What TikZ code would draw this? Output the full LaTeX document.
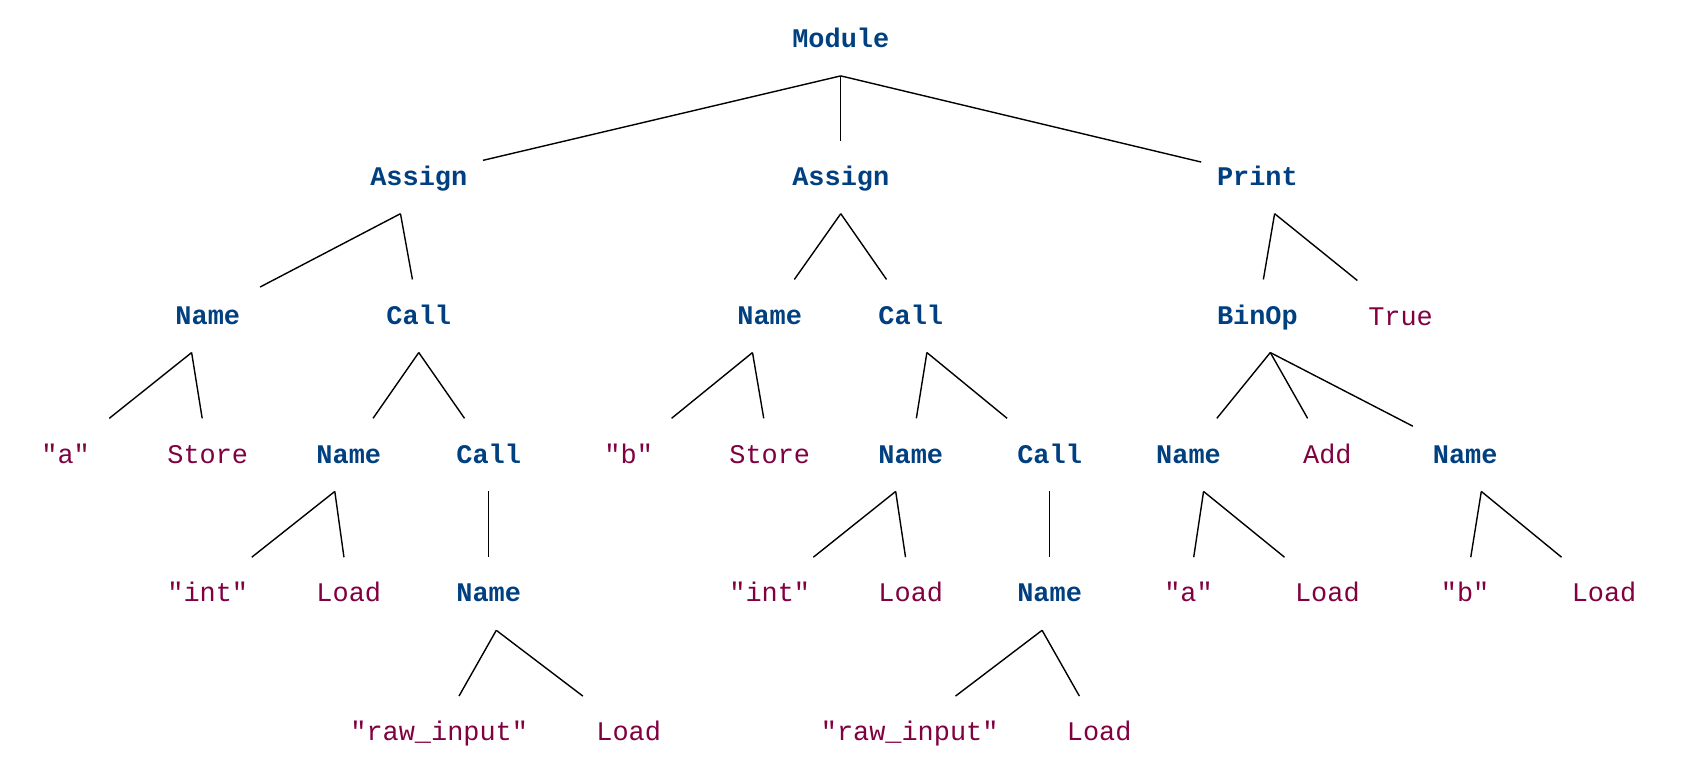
\documentclass[tikz,border=0pt]{standalone}
\usepackage{fontspec}
\setmonofont{Liberation Mono}
\usetikzlibrary{calc}
\definecolor{nodeblue}{RGB}{0,64,128}
\definecolor{leafred}{RGB}{128,0,64}
\begin{document}
\begin{tikzpicture}[x=0.5pt,y=-0.5pt,
  base/.style={rectangle, inner xsep=7.14pt, inner ysep=0pt, minimum width=48.2pt,
    minimum height=32pt, text height=9.1pt, text depth=0pt},
  inode/.style={base, text=nodeblue, font=\ttfamily\bfseries\fontsize{12.5}{14}\selectfont},
  leaf/.style={base, text=leafred, font=\ttfamily\fontsize{12.5}{14}\selectfont},
  link/.style={line width=0.65pt, draw=black}]
\useasboundingbox (0,0) rectangle (1568,721);
% level 1
\node[inode] (m) at (781,35) {Module};
% level 2
\node[inode] (a1) at (389,163) {Assign};
\node[inode] (a2) at (781,163) {Assign};
\node[inode] (p) at (1168,163) {Print};
% level 3
\node[inode] (n1) at (193,292) {Name};
\node[inode] (c1) at (389,292) {Call};
\node[inode] (n2) at (715,292) {Name};
\node[inode] (c2) at (846,292) {Call};
\node[inode] (bo) at (1168,292) {BinOp};
\node[leaf] (tr) at (1301,293) {True};
% level 4
\node[leaf] (la) at (61,421) {"a"};
\node[leaf] (st1) at (193,421) {Store};
\node[inode] (n3) at (324,421) {Name};
\node[inode] (c3) at (454,421) {Call};
\node[leaf] (lb) at (584,421) {"b"};
\node[leaf] (st2) at (715,421) {Store};
\node[inode] (n4) at (846,421) {Name};
\node[inode] (c4) at (975,421) {Call};
\node[inode] (n5) at (1104,421) {Name};
\node[leaf] (add) at (1233,421) {Add};
\node[inode] (n6) at (1361,421) {Name};
% level 5
\node[leaf] (i1) at (193,550) {"int"};
\node[leaf] (l1) at (324,550) {Load};
\node[inode] (n7) at (454,550) {Name};
\node[leaf] (i2) at (715,550) {"int"};
\node[leaf] (l2) at (846,550) {Load};
\node[inode] (n8) at (975,550) {Name};
\node[leaf] (la2) at (1104,550) {"a"};
\node[leaf] (l3) at (1233,550) {Load};
\node[leaf] (lb2) at (1361,550) {"b"};
\node[leaf] (l4) at (1490,550) {Load};
% level 6
\node[leaf] (r1) at (408,679) {"raw\_input"};
\node[leaf] (l5) at (584,679) {Load};
\node[leaf] (r2) at (845,679) {"raw\_input"};
\node[leaf] (l6) at (1021,679) {Load};
% edges
\draw[link] ($(m)+(0,35.5)$) -- (a1);
\draw[link] ($(m)+(0,35.5)$) -- (a2);
\draw[link] ($(m)+(0,35.5)$) -- (p);
\draw[link] ($(a1)+(-17,35.5)$) -- (n1);
\draw[link] ($(a1)+(-17,35.5)$) -- (c1);
\draw[link] ($(a2)+(0,35.5)$) -- (n2);
\draw[link] ($(a2)+(0,35.5)$) -- (c2);
\draw[link] ($(p)+(16,35.5)$) -- (bo);
\draw[link] ($(p)+(16,35.5)$) -- (tr);
\draw[link] ($(n1)+(-15,35.5)$) -- (la);
\draw[link] ($(n1)+(-15,35.5)$) -- (st1);
\draw[link] ($(c1)+(0,35.5)$) -- (n3);
\draw[link] ($(c1)+(0,35.5)$) -- (c3);
\draw[link] ($(n2)+(-16,35.5)$) -- (lb);
\draw[link] ($(n2)+(-16,35.5)$) -- (st2);
\draw[link] ($(c2)+(15,35.5)$) -- (n4);
\draw[link] ($(c2)+(15,35.5)$) -- (c4);
\draw[link] ($(bo)+(12,35.5)$) -- (n5);
\draw[link] ($(bo)+(12,35.5)$) -- (add);
\draw[link] ($(bo)+(12,35.5)$) -- (n6);
\draw[link] ($(n3)+(-13,35.5)$) -- (i1);
\draw[link] ($(n3)+(-13,35.5)$) -- (l1);
\draw[link] ($(c3)+(0,35.5)$) -- (n7);
\draw[link] ($(n4)+(-14,35.5)$) -- (i2);
\draw[link] ($(n4)+(-14,35.5)$) -- (l2);
\draw[link] ($(c4)+(0,35.5)$) -- (n8);
\draw[link] ($(n5)+(14,35.5)$) -- (la2);
\draw[link] ($(n5)+(14,35.5)$) -- (l3);
\draw[link] ($(n6)+(15,35.5)$) -- (lb2);
\draw[link] ($(n6)+(15,35.5)$) -- (l4);
\draw[link] ($(n7)+(7,35.5)$) -- (r1);
\draw[link] ($(n7)+(7,35.5)$) -- (l5);
\draw[link] ($(n8)+(-7,35.5)$) -- (r2);
\draw[link] ($(n8)+(-7,35.5)$) -- (l6);
\end{tikzpicture}
\end{document}
